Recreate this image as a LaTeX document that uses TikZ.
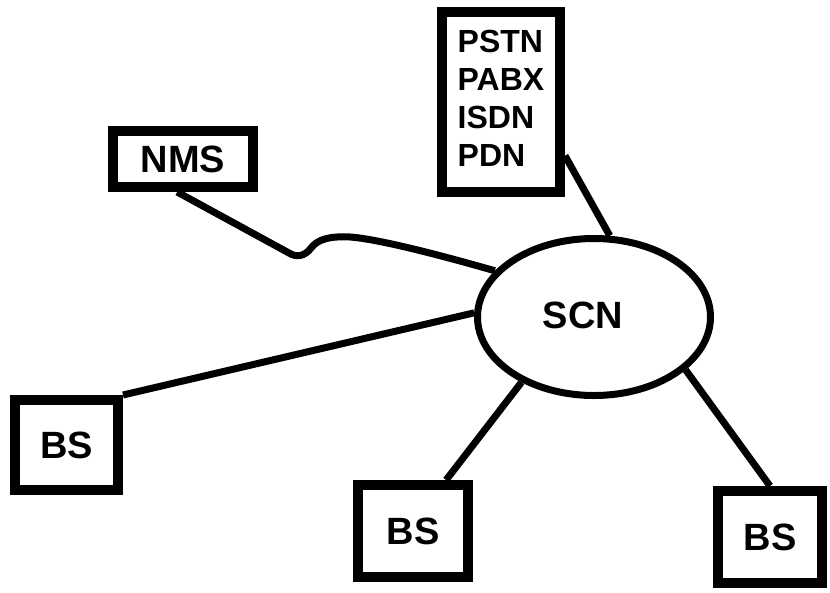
\documentclass[tikz,border=0pt]{standalone}
\usepackage{fontspec}
\setmainfont{Liberation Sans}
\usetikzlibrary{shapes.geometric}
\begin{document}
\begin{tikzpicture}[x=1pt,y=-1pt,
  boxnode/.style={draw=black,line width=10pt,rectangle,inner sep=0pt,fill=white,
    font=\fontsize{38}{38}\selectfont\bfseries},
  conn/.style={draw=black,line width=7pt,line join=round},
  hub/.style={ellipse,draw=black,line width=7pt,fill=white,inner sep=0pt},
  hubtext/.style={inner sep=0pt,font=\fontsize{38}{38}\selectfont\bfseries}]
\useasboundingbox[fill=white] (0,0) rectangle (830,592);

\node[boxnode,minimum width=118pt,minimum height=180pt,align=left,text depth=8pt,
      font=\fontsize{32}{38}\selectfont\bfseries] (pstn) at (501,102) {PSTN\\PABX\\ISDN\\PDN};
\node[boxnode,minimum width=140pt,minimum height=56pt] (nms) at (183,159) {NMS};
\node[boxnode,minimum width=103pt,minimum height=90pt] (lbs) at (66.5,445) {BS};
\node[boxnode,minimum width=110pt,minimum height=92pt] (mbs) at (413,531) {BS};
\node[boxnode,minimum width=104pt,minimum height=92pt] (rbs) at (770,537) {BS};
\node[hub,minimum width=233pt,minimum height=157pt] (scn) at (594,317) {};
\node[hubtext] (scnlabel) at (583,315) {SCN};

\draw[conn] (nms.-100) -- (289,253) .. controls (297,258) and (305,256) .. (311,248)
  .. controls (318,239) and (330,236) .. (350,237)
  .. controls (378,239) and (440,255) .. (scn.155);
\draw[conn] (pstn.-40) -- (scn.79);
\draw[conn] (lbs.north east) -- (scn.178);
\draw[conn] (mbs.57) -- (scn.222);
\draw[conn] (rbs.north) -- (scn.-30);
\end{tikzpicture}
\end{document}
